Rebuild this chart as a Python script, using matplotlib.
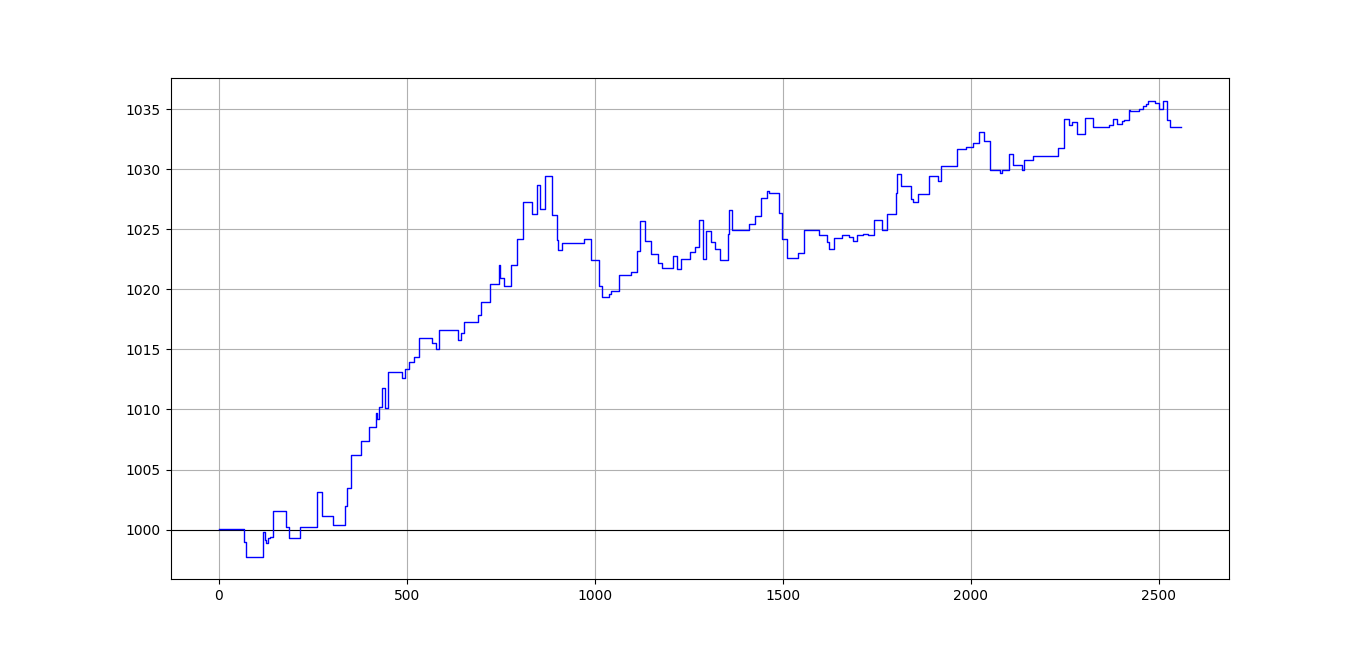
import numpy as np
import matplotlib
matplotlib.use("Agg")
import matplotlib.pyplot as plt

# change points of the equity curve (value holds until the next x)
step_x = [0, 67, 72, 118, 122, 126, 130, 136, 143, 178, 186, 215, 261, 274, 304,
          335, 340, 352, 378, 400, 417, 420, 427, 433, 441, 449, 486, 495, 506,
          520, 533, 567, 577, 585, 637, 645, 652, 689, 698, 721, 744, 747, 758,
          776, 793, 810, 832, 847, 854, 867, 887, 900, 903, 912, 972, 989, 1011,
          1020, 1038, 1042, 1064, 1095, 1111, 1121, 1134, 1150, 1167, 1178, 1207,
          1218, 1228, 1253, 1266, 1277, 1288, 1297, 1309, 1319, 1334, 1353, 1357,
          1365, 1410, 1426, 1441, 1459, 1464, 1490, 1499, 1510, 1541, 1557, 1596,
          1617, 1622, 1637, 1658, 1676, 1687, 1698, 1714, 1727, 1743, 1765, 1776,
          1800, 1804, 1814, 1840, 1846, 1860, 1889, 1913, 1922, 1964, 1988, 2006,
          2022, 2036, 2051, 2077, 2082, 2102, 2113, 2137, 2142, 2166, 2233, 2248,
          2261, 2270, 2283, 2303, 2325, 2367, 2379, 2389, 2403, 2407, 2421, 2424,
          2448, 2458, 2467, 2472, 2491, 2500, 2512, 2523, 2529, 2560]
step_y = [1000.05, 998.95, 997.75, 999.8, 999.1, 998.9, 999.3, 999.35, 1001.55,
          1000.25, 999.3, 1000.2, 1003.1, 1001.1, 1000.36, 1002.0, 1003.5, 1006.2,
          1007.36, 1008.58, 1009.7, 1009.2, 1010.2, 1011.8, 1010.1, 1013.1, 1012.6,
          1013.4, 1013.95, 1014.36, 1015.95, 1015.56, 1015.05, 1016.64, 1015.75,
          1016.36, 1017.28, 1017.83, 1018.92, 1020.42, 1022.0, 1020.95, 1020.25,
          1022.06, 1024.2, 1027.28, 1026.3, 1028.67, 1026.7, 1029.42, 1026.17,
          1024.14, 1023.3, 1023.86, 1024.17, 1022.42, 1020.28, 1019.36, 1019.6,
          1019.83, 1021.22, 1021.44, 1023.2, 1025.7, 1024.0, 1022.94, 1022.2,
          1021.8, 1022.78, 1021.72, 1022.55, 1023.1, 1023.53, 1025.8, 1022.5,
          1024.88, 1023.95, 1023.33, 1022.42, 1024.62, 1026.58, 1024.92, 1025.47,
          1026.12, 1027.64, 1028.2, 1028.03, 1026.36, 1024.22, 1022.61, 1023.03,
          1024.92, 1024.5, 1023.94, 1023.33, 1024.28, 1024.56, 1024.4, 1024.0,
          1024.5, 1024.6, 1024.5, 1025.8, 1024.97, 1026.3, 1028.03, 1029.64,
          1028.6, 1027.56, 1027.3, 1027.92, 1029.44, 1029.06, 1030.28, 1031.67,
          1031.86, 1032.2, 1033.1, 1032.36, 1029.97, 1029.72, 1029.9, 1031.25,
          1030.33, 1029.92, 1030.75, 1031.08, 1031.75, 1034.22, 1033.67, 1033.94,
          1032.97, 1034.3, 1033.53, 1033.67, 1034.17, 1033.8, 1034.0, 1034.14,
          1034.92, 1034.85, 1035.0, 1035.28, 1035.47, 1035.69, 1035.5, 1035.0,
          1035.69, 1034.08, 1033.53, 1033.53]
baseline = 1000

fig, ax = plt.subplots(figsize=(13.66, 6.51), dpi=100)
ax.axhline(baseline, color="black", linewidth=0.8)
ax.plot(step_x, step_y, color="blue", linewidth=1, drawstyle="steps-post")
ax.grid(True)

fig.savefig("out.png", dpi=100)
